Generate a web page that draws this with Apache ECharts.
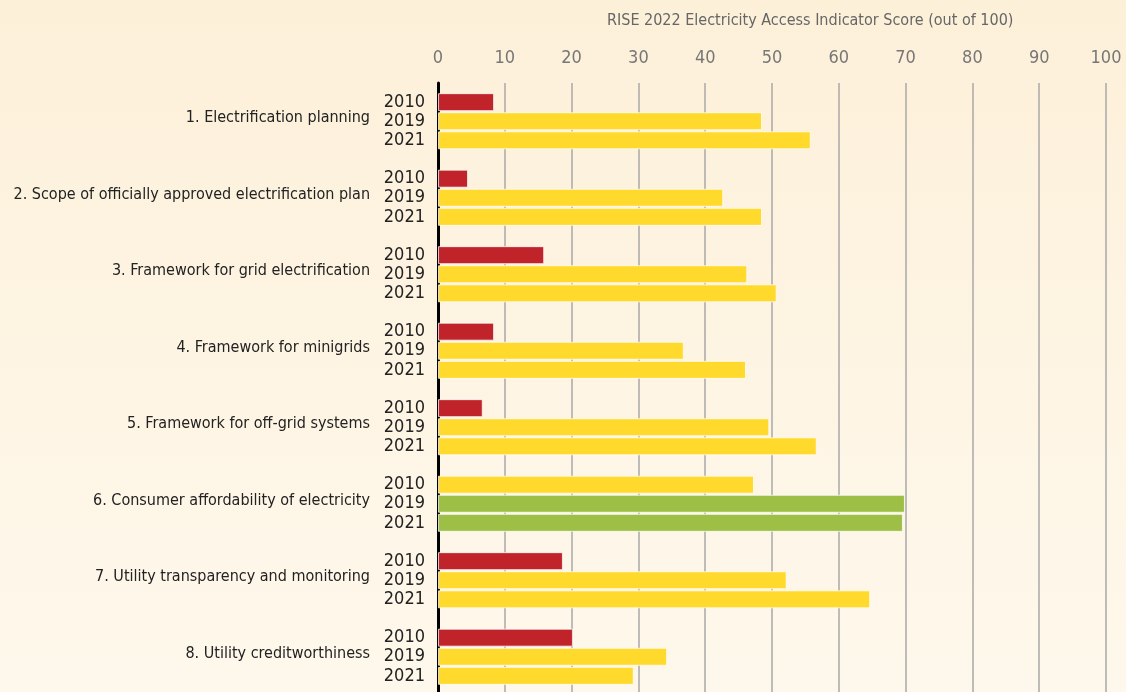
<!DOCTYPE html>
<html>
<head>
<meta charset="utf-8">
<script src="https://cdn.jsdelivr.net/npm/echarts@6/dist/echarts.min.js"></script>
<style>
  html, body { margin: 0; padding: 0; }
  #chart { width: 1126px; height: 692px; }
</style>
</head>
<body>
<div id="chart"></div>
<script>
  // indicator names, top to bottom
  var categories = [
    '1. Electrification planning',
    '2. Scope of officially approved electrification plan',
    '3. Framework for grid electrification',
    '4. Framework for minigrids',
    '5. Framework for off-grid systems',
    '6. Consumer affordability of electricity',
    '7. Utility transparency and monitoring',
    '8. Utility creditworthiness'
  ];
  var years = ['2010', '2019', '2021'];
  var score2010 = [8.4, 4.5, 15.9, 8.4, 6.7, 47.3, 18.7, 20.2];
  var score2019 = [48.5, 42.7, 46.3, 36.8, 49.6, 69.9, 52.2, 34.3];
  var score2021 = [55.8, 48.5, 50.7, 46.1, 56.7, 69.6, 64.7, 29.3];
  var xTicks = [0, 10, 20, 30, 40, 50, 60, 70, 80, 90, 100];

  var font = "'Liberation Sans Narrow', 'DejaVu Sans Condensed', sans-serif";

  // red / yellow / green by score band
  function scoreColor(p) {
    if (p.value < 25) return '#c1232a';
    if (p.value < 66) return '#ffd92b';
    return '#9dbf45';
  }

  function makeSeries(name, values) {
    return {
      name: name,
      type: 'bar',
      data: values,
      barWidth: 18,
      barGap: '6%',
      itemStyle: {
        color: scoreColor,
        borderColor: 'rgba(255,255,255,0.75)',
        borderWidth: 1
      },
      label: {
        show: true,
        position: 'left',
        distance: 13,
        formatter: '{a}',
        fontFamily: font,
        fontSize: 18,
        color: '#222'
      },
      emphasis: { disabled: true },
      silent: true
    };
  }

  var myChart = echarts.init(document.getElementById('chart'));
  var option = {
    animation: false,
    backgroundColor: {
      type: 'linear', x: 0, y: 0, x2: 0, y2: 1,
      colorStops: [
        { offset: 0, color: '#fdf0d9' },
        { offset: 1, color: '#fef8ec' }
      ]
    },
    title: {
      text: 'RISE 2022 Electricity Access Indicator Score (out of 100)',
      left: 602,
      top: 8,
      textStyle: {
        fontFamily: font,
        fontSize: 16,
        fontWeight: 'normal',
        color: '#666'
      }
    },
    grid: {
      left: 438,
      right: 20,
      top: 83,
      height: 612,
      outerBoundsMode: 'none'
    },
    xAxis: {
      type: 'value',
      position: 'top',
      min: xTicks[0],
      max: xTicks[xTicks.length - 1],
      interval: 10,
      axisLine: { show: false },
      axisTick: { show: false },
      axisLabel: {
        margin: 16,
        fontFamily: font,
        fontSize: 18,
        color: '#777'
      },
      splitLine: {
        lineStyle: { color: '#a8a8a8', width: 1.5 }
      }
    },
    yAxis: {
      type: 'category',
      inverse: true,
      data: categories,
      axisLine: { lineStyle: { color: '#000', width: 3 } },
      axisTick: { show: false },
      axisLabel: {
        margin: 68,
        fontFamily: font,
        fontSize: 16,
        color: '#222',
        verticalAlign: 'bottom',
        lineHeight: 6
      }
    },
    series: [
      makeSeries(years[0], score2010),
      makeSeries(years[1], score2019),
      makeSeries(years[2], score2021)
    ]
  };
  myChart.setOption(option);
</script>
</body>
</html>
